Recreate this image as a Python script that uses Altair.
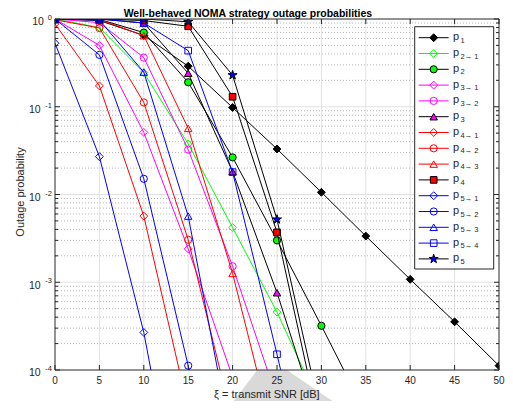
import altair as alt
import pandas as pd

TITLE = "Well-behaved NOMA strategy outage probabilities"
XLABEL = "ξ = transmit SNR [dB]"
YLABEL = "Outage probability"

SNR_DB = [0, 5, 10, 15, 20, 25, 30, 35, 40, 45, 50]
X_TICKS = [0, 5, 10, 15, 20, 25, 30, 35, 40, 45, 50]
Y_DECADES = [1, 0.1, 0.01, 0.001, 0.0001]
Y_EXPONENTS = ["0", "-1", "-2", "-3", "-4"]

# outage probabilities (last value of a list lies below 1e-4)
P1 = [1.0, 0.96, 0.65, 0.29, 0.098, 0.033, 0.0106, 0.00336, 0.00108, 0.000354, 0.000112]
P2_1 = [1.0, 0.80, 0.245, 0.0377, 0.0042, 0.000457, 3.6e-5]
P2 = [1.0, 0.99, 0.70, 0.19, 0.0265, 0.0030, 0.000319, 3.2e-5]
P3_1 = [1.0, 0.50, 0.051, 0.0024, 8.3e-5]
P3_2 = [1.0, 0.91, 0.363, 0.0325, 0.00152, 4.7e-5]
P3 = [1.0, 1.0, 0.90, 0.241, 0.0182, 0.00076, 2.0e-5]
P4_1 = [0.88, 0.173, 0.00567, 3.6e-5]
P4_2 = [0.98, 0.79, 0.112, 0.00305, 2.6e-5]
P4_3 = [1.0, 0.99, 0.646, 0.0567, 0.00126, 1.2e-5]
P4 = [1.0, 1.0, 0.96, 0.826, 0.13, 0.0037, 1.8e-5]
P5_1 = [0.53, 0.027, 0.000268, 5.6e-7]
P5_2 = [1.0, 0.39, 0.0151, 0.000112, 8.3e-7]
P5_3 = [1.0, 0.97, 0.248, 0.00567, 1.3e-5]
P5_4 = [1.0, 1.0, 0.90, 0.436, 0.018, 0.000151, 1e-6]
P5 = [1.0, 1.0, 1.0, 0.93, 0.229, 0.0052, 2.9e-5]

SUBSCRIPTS = ["1", "2→ 1", "2", "3→ 1", "3→ 2", "3", "4→ 1", "4→ 2", "4→ 3", "4",
              "5→ 1", "5→ 2", "5→ 3", "5→ 4", "5"]
VALUES = [P1, P2_1, P2, P3_1, P3_2, P3, P4_1, P4_2, P4_3, P4, P5_1, P5_2, P5_3, P5_4, P5]

STAR = ("M0,-1L0.2233,-0.3074L0.9511,-0.309L0.3614,0.1174L0.5878,0.809L0,0.38"
        "L-0.5878,0.809L-0.3614,0.1174L-0.9511,-0.309L-0.2233,-0.3074Z")
K, G, M, R, B = "#000000", "#00ff00", "#ff00ff", "#ff0000", "#0000ff"
# (line colour, marker shape, marker fill or None, marker edge)
STYLES = [
    (K, "diamond", K, K), (G, "diamond", None, G), (K, "circle", G, K),
    (M, "diamond", None, M), (M, "circle", None, M), (K, "triangle-up", M, K),
    (R, "diamond", None, R), (R, "circle", None, R), (R, "triangle-up", None, R),
    (K, "square", R, K),
    (B, "diamond", None, B), (B, "circle", None, B), (B, "triangle-up", None, B),
    (B, "square", None, B), (K, STAR, B, K),
]
SIZES = {"diamond": 62, "circle": 52, "triangle-up": 56, "square": 44}

W, H = 444, 351
FONT = "Liberation Sans"
AX = "#262626"
F = W / 450.0  # horizontal layout factor relative to the reference

xs = alt.Scale(domain=[0, 50], nice=False, zero=False)
ys = alt.Scale(type="log", domain=[1e-4, 1], nice=False)
pxs = alt.Scale(domain=[0, W], range=[0, W], nice=False, zero=False)
pys = alt.Scale(domain=[0, H], range=[0, H], nice=False, zero=False)


def one():
    return alt.Chart(pd.DataFrame({"k": [0]}))


def point_kw(shape, fill, edge):
    kw = dict(shape=shape, size=SIZES.get(shape, 90), opacity=1, strokeWidth=1, stroke=edge)
    if fill is None:
        kw.update(filled=False)
    else:
        kw.update(filled=True, fill=fill)
    return kw


layers = []

# grey diagonal band below the axes (artifact in the reference picture)
band = pd.DataFrame({"x": [175 * F, 205 * F, 235 * F, 293 * F],
                     "y": [390, 351, 351, 390], "y2": [390] * 4})
layers.append(alt.Chart(band).mark_area(color="#d9d9d9").encode(
    x=alt.X("x:Q", scale=pxs, axis=None), y=alt.Y("y:Q", scale=pys, axis=None), y2="y2:Q"))

# grid
gx = pd.DataFrame({"g": X_TICKS[1:-1]})
layers.append(alt.Chart(gx).mark_rule(color="#e2e2e2", strokeWidth=1).encode(
    x=alt.X("g:Q", scale=xs, axis=None), y=alt.value(0), y2=alt.value(H)))
minor = [k * d for d in Y_DECADES[1:] for k in range(2, 10)]
layers.append(alt.Chart(pd.DataFrame({"g": minor})).mark_rule(
    color="#b5b5b5", strokeWidth=1, strokeDash=[1, 2]).encode(
    y=alt.Y("g:Q", scale=ys, axis=None), x=alt.value(0), x2=alt.value(W)))
layers.append(alt.Chart(pd.DataFrame({"g": Y_DECADES[1:-1]})).mark_rule(
    color="#e2e2e2", strokeWidth=1).encode(
    y=alt.Y("g:Q", scale=ys, axis=None), x=alt.value(0), x2=alt.value(W)))

# series
for vals, (lc, shape, fill, edge) in zip(VALUES, STYLES):
    df = pd.DataFrame({"x": SNR_DB[:len(vals)], "y": vals})
    enc = dict(x=alt.X("x:Q", scale=xs, axis=None), y=alt.Y("y:Q", scale=ys, axis=None))
    layers.append(alt.Chart(df).mark_line(color=lc, strokeWidth=1, clip=True).encode(**enc))
    layers.append(alt.Chart(df).mark_point(clip=True, **point_kw(shape, fill, edge)).encode(**enc))

# ticks (inward, all four sides)
xt = pd.DataFrame({"t": X_TICKS})
for ya, yb in [(H, H - 5), (0, 5)]:
    layers.append(alt.Chart(xt).mark_rule(color=AX, strokeWidth=1).encode(
        x=alt.X("t:Q", scale=xs, axis=None), y=alt.value(ya), y2=alt.value(yb)))
yt = pd.DataFrame({"t": Y_DECADES})
ymt = pd.DataFrame({"t": minor})
for data, ln in [(yt, 5), (ymt, 3)]:
    for xa, xb in [(0, ln), (W - ln, W)]:
        layers.append(alt.Chart(data).mark_rule(color=AX, strokeWidth=1).encode(
            y=alt.Y("t:Q", scale=ys, axis=None), x=alt.value(xa), x2=alt.value(xb)))

# legend (anchored to the right edge of the plot)
layers.append(one().mark_rect(fill="white", stroke=AX, strokeWidth=1).encode(
    x=alt.value(W - 84.3), x2=alt.value(W - 5.3), y=alt.value(7.7), y2=alt.value(250)))
for i, (sub, (lc, shape, fill, edge)) in enumerate(zip(SUBSCRIPTS, STYLES)):
    yc = 18.7 + i * 15.8
    layers.append(one().mark_rule(color=lc, strokeWidth=1).encode(
        x=alt.value(W - 80.3), x2=alt.value(W - 50.3), y=alt.value(yc)))
    layers.append(one().mark_point(**point_kw(shape, fill, edge)).encode(
        x=alt.value(W - 65.3), y=alt.value(yc)))
    layers.append(one().mark_text(text="p", font=FONT, fontSize=11, color=AX,
                                  align="left", baseline="alphabetic").encode(
        x=alt.value(W - 46), y=alt.value(yc + 2.5)))
    layers.append(one().mark_text(text=sub, font=FONT, fontSize=7.5, color=AX,
                                  align="left", baseline="alphabetic").encode(
        x=alt.value(W - 38.5), y=alt.value(yc + 5)))

# frame
layers.append(one().mark_rect(fill="white", fillOpacity=0, stroke=AX, strokeWidth=1).encode(
    x=alt.value(0), x2=alt.value(W), y=alt.value(0), y2=alt.value(H)))

# x tick labels
layers.append(alt.Chart(xt).mark_text(font=FONT, fontSize=10, color=AX,
                                      baseline="alphabetic").encode(
    x=alt.X("t:Q", scale=xs, axis=None), y=alt.value(H + 14), text="t:N"))

# y tick labels: "10" with raised exponent
ylab = pd.DataFrame({"t": Y_DECADES, "e": Y_EXPONENTS})
for d, e in zip(Y_DECADES, Y_EXPONENTS):
    bx = -7.5 - (3.6 if e == "0" else 6.8)
    layers.append(alt.Chart(pd.DataFrame({"t": [d]})).mark_text(
        text="10", font=FONT, fontSize=10.5, color=AX, align="right",
        baseline="alphabetic", dy=6.3).encode(
        y=alt.Y("t:Q", scale=ys, axis=None), x=alt.value(bx)))
layers.append(alt.Chart(ylab).mark_text(font=FONT, fontSize=7.5, color=AX, align="right",
                                        baseline="alphabetic", dy=1).encode(
    y=alt.Y("t:Q", scale=ys, axis=None), x=alt.value(-3), text="e:N"))

# axis titles and title
layers.append(one().mark_text(text=XLABEL, font=FONT, fontSize=11, color=AX,
                              align="center", baseline="alphabetic").encode(
    x=alt.value(214.7 * F), y=alt.value(379)))
layers.append(one().mark_text(text=YLABEL, font=FONT, fontSize=11, color=AX, angle=270,
                              align="center", baseline="alphabetic").encode(
    x=alt.value(-31), y=alt.value(173)))
layers.append(one().mark_text(text=TITLE, font=FONT, fontSize=10.5, fontWeight="bold",
                              color="#000000", align="center", baseline="alphabetic").encode(
    x=alt.value(195.5 * F), y=alt.value(-2)))

chart = alt.layer(*layers).properties(
    width=W, height=H,
    autosize=alt.AutoSizeParams(type="none"),
    padding={"left": 47, "top": 11, "right": 6, "bottom": 31},
).resolve_scale(x="independent", y="independent").configure_view(stroke=None)

chart.save("out.html", embed_options={"renderer": "svg", "actions": False})
